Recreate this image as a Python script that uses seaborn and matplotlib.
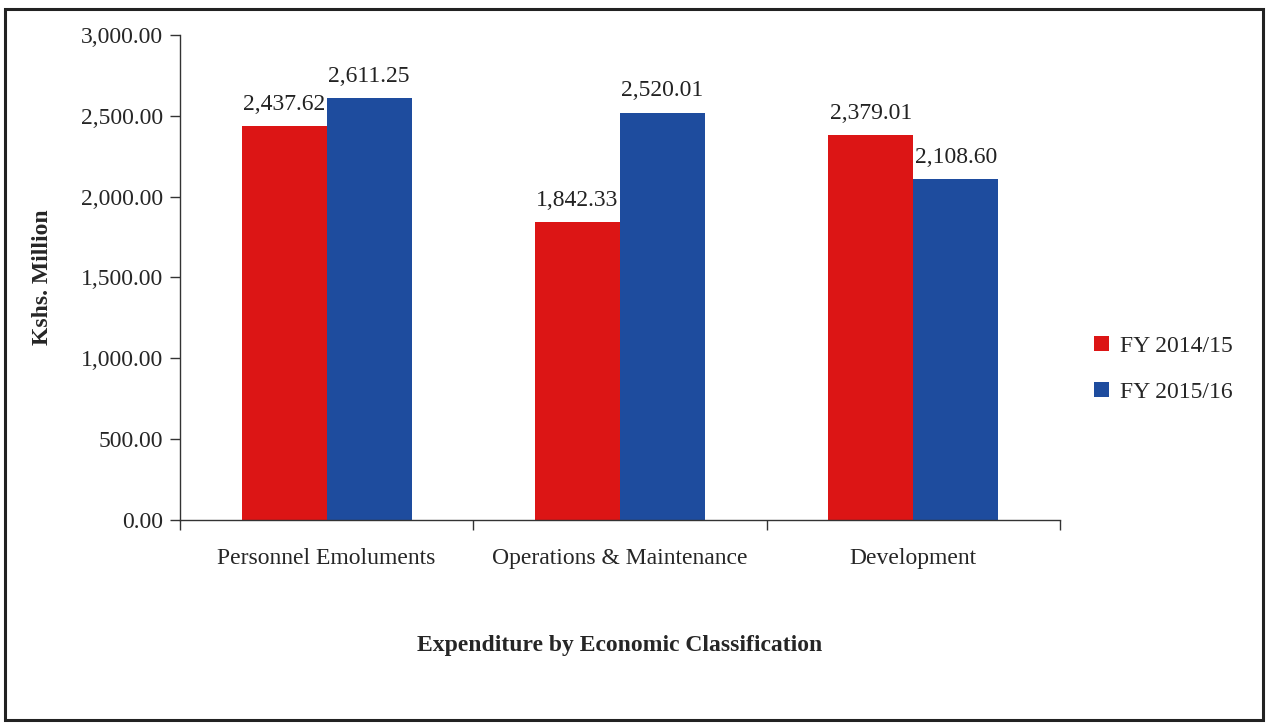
import pandas as pd
import numpy as np
import matplotlib.pyplot as plt
import seaborn as sns
from matplotlib.patches import Rectangle

# data
categories = ['Personnel Emoluments', 'Operations & Maintenance', 'Development']
fy_2014 = [2437.62, 1842.33, 2379.01]
fy_2015 = [2611.25, 2520.01, 2108.60]
series_names = ['FY 2014/15', 'FY 2015/16']
y_ticks = [0, 500, 1000, 1500, 2000, 2500, 3000]

df = pd.DataFrame({
    'category': categories * 2,
    'value': fy_2014 + fy_2015,
    'series': [series_names[0]] * 3 + [series_names[1]] * 3,
})

sns.set_theme(style="white")
plt.rcParams['font.family'] = ['Liberation Serif', 'DejaVu Serif']

fig = plt.figure(figsize=(12.71, 7.27), dpi=100)
ax = fig.add_axes([0.1416, 0.2847, 0.6924, 0.6672])

palette = {'FY 2014/15': '#DC1515', 'FY 2015/16': '#1E4C9E'}
sns.barplot(data=df, x='category', y='value', hue='series', palette=palette,
            width=0.58, gap=0, saturation=1, linewidth=0, ax=ax, legend=True)

for cont in ax.containers:
    ax.bar_label(cont, labels=[f'{v:,.2f}' for v in cont.datavalues],
                 padding=8, fontsize=17, color='#222222')

ax.set_ylim(0, 3000)
ax.set_xlim(-0.5, 2.5)
ax.set_yticks(y_ticks)
ax.set_yticklabels([f'{v:,.2f}' for v in y_ticks], fontsize=17)
ax.tick_params(axis='y', direction='out', length=7, width=1, color='#333333', pad=5, left=True)
ax.tick_params(axis='x', which='major', length=0, labelsize=17, pad=20)
ax.set_xticks([-0.5, 0.5, 1.5, 2.5], minor=True)
ax.tick_params(axis='x', which='minor', direction='out', length=7, width=1,
               color='#333333', bottom=True)

for s in ['top', 'right']:
    ax.spines[s].set_visible(False)
for s in ['left', 'bottom']:
    ax.spines[s].set_color('#333333')
    ax.spines[s].set_linewidth(1)

ax.set_xlabel('Expenditure by Economic Classification', fontsize=17,
              fontweight='bold', labelpad=48)
ax.set_ylabel('Kshs. Million', fontsize=17, fontweight='bold', labelpad=20)

leg = ax.legend(loc='center left', bbox_to_anchor=(1.015, 0.31), frameon=False,
                fontsize=17, handlelength=0.6, handleheight=0.6,
                handletextpad=0.5, labelspacing=1.05)

fig.patches.append(Rectangle((0.004, 0.01), 0.99, 0.978, transform=fig.transFigure,
                             fill=False, edgecolor='#222222', linewidth=2.2))

fig.savefig('out.png', dpi=100)
